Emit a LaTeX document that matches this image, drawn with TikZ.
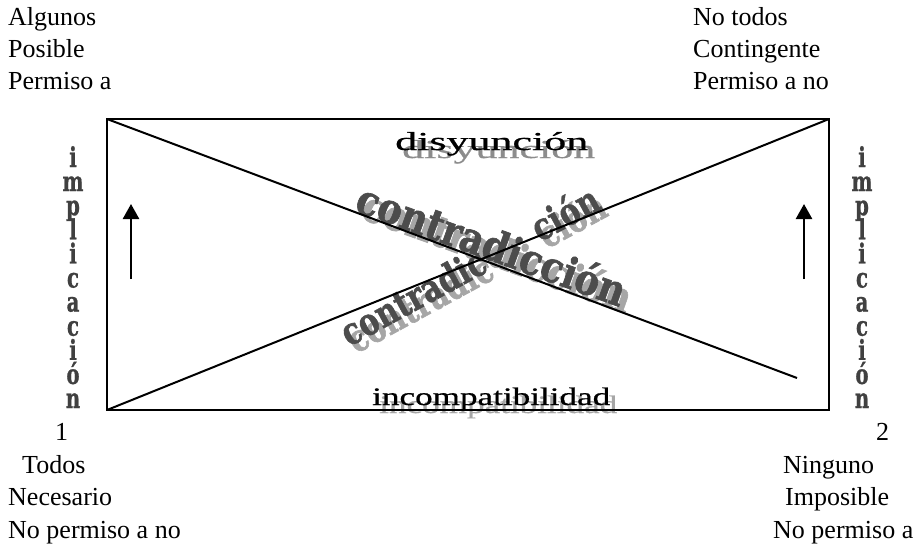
\documentclass[tikz,border=0pt]{standalone}
\usepackage{fontspec}
\setmainfont{Liberation Serif}
\newfontfamily\heavy{DejaVu Serif}[FakeBold=1.6]
\newfontfamily\heavyv{DejaVu Serif}[FakeBold=1.0]
\newfontfamily\wideserif{Liberation Serif}[FakeBold=0.6]
\usetikzlibrary{arrows.meta}
\begin{document}
\begin{tikzpicture}[x=1pt,y=-1pt,
  lbl/.style={anchor=base west, inner sep=0pt, font=\fontsize{26}{30}\selectfont},
  wide/.style={anchor=base west, inner sep=0pt, font=\wideserif\fontsize{26}{26}\selectfont},
  heavyA/.style={anchor=base west, inner sep=0pt, font=\heavy\bfseries\fontsize{34}{34}\selectfont, rotate=-19.8},
  heavyB/.style={inner sep=0pt, font=\heavy\bfseries\fontsize{30}{30}\selectfont, rotate=28.5},
  vlet/.style={anchor=base, inner sep=0pt, text=black!75, font=\heavyv\bfseries\fontsize{29}{29}\selectfont},
  frame/.style={line width=2pt},
  uparrow/.style={line width=2.5pt, -{Triangle[width=16pt,length=15pt]}}]
\useasboundingbox (0,0) rectangle (924,544);
% corner texts
\node[lbl] (tl1) at (8,25) {Algunos};
\node[lbl] (tl2) at (8,57) {Posible};
\node[lbl] (tl3) at (8,89) {Permiso a};
\node[lbl] (tr1) at (693,25) {No todos};
\node[lbl] (tr2) at (693,57) {Contingente};
\node[lbl] (tr3) at (693,89) {Permiso a no};
\node[lbl] (n1) at (55,440) {1};
\node[lbl] (bl1) at (22,473) {Todos};
\node[lbl] (bl2) at (8,505) {Necesario};
\node[lbl] (bl3) at (8,538) {No permiso a no};
\node[lbl] (n2) at (876,440) {2};
\node[lbl] (br1) at (783,473) {Ninguno};
\node[lbl] (br2) at (785,505) {Imposible};
\node[lbl] (br3) at (773,538) {No permiso a};
% disyuncion / incompatibilidad with shadows
\node[wide, text=black!45] (dis) at (402,158) {\resizebox{193pt}{18pt}{disyunción}};
\node[wide] (di) at (395,150) {\resizebox{193pt}{18pt}{disyunción}};
\node[wide, text=black!35] (incs) at (379,413) {\resizebox{238pt}{17.5pt}{incompatibilidad}};
% contradiccion texts
\node[heavyA, text=black!35] (c1s) at (359,218) {\scalebox{1.08}[1.25]{contradicción}};
\node[heavyA, text=black!70] (c1) at (353,211) {\scalebox{1.08}[1.25]{contradicción}};
\node[heavyB, anchor=base west, text=black!35] (c2s) at (356,354) {\scalebox{1}[1.25]{contradic}};
\node[heavyB, anchor=base west, text=black!70] (c2) at (349,347) {\scalebox{1}[1.25]{contradic}};
\node[heavyB, anchor=base east, text=black!35] (c3s) at (610,215) {\scalebox{1}[1.25]{ción}};
\node[heavyB, anchor=base east, text=black!70] (c3) at (603,208) {\scalebox{1}[1.25]{ción}};
% frame and diagonals
\coordinate (A) at (107,119);
\coordinate (B) at (829,119);
\coordinate (C) at (829,410);
\coordinate (D) at (107,410);
\coordinate (E) at (797,378);
\draw[frame] (A) rectangle (C);
\draw[frame] (A) -- (E);
\draw[frame] (D) -- (B);
\node[wide] (inc) at (372,405) {\resizebox{238pt}{17.5pt}{incompatibilidad}};
% arrows
\coordinate (la0) at (131,279);
\coordinate (la1) at (131,204);
\coordinate (ra0) at (804,279);
\coordinate (ra1) at (804,204);
\draw[uparrow] (la0) -- (la1);
\draw[uparrow] (ra0) -- (ra1);
% vertical implicacion
\foreach \ch [count=\k] in {i,m,p,l,i,c,a,c,i,ó,n}{
  \node[vlet] (vl\k) at (73,{167+(\k-1)*24.1}) {\scalebox{0.68}[0.95]{\ch}};
  \node[vlet] (vr\k) at (862,{167+(\k-1)*24.1}) {\scalebox{0.68}[0.95]{\ch}};
}
\end{tikzpicture}
\end{document}
